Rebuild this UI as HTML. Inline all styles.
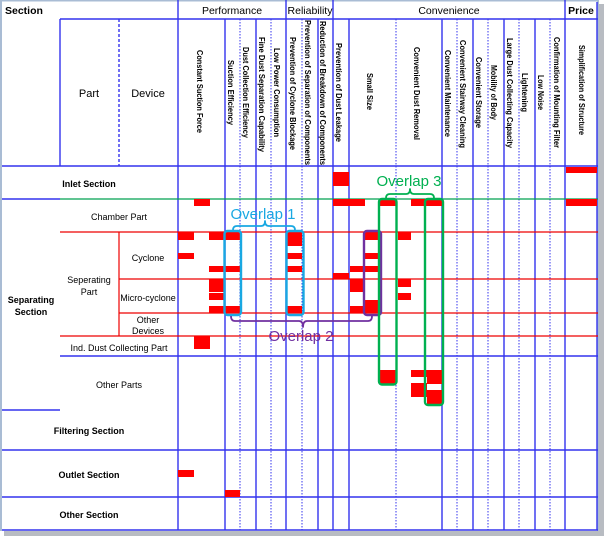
<!DOCTYPE html>
<html><head><meta charset="utf-8"><style>
html,body{margin:0;padding:0;background:#fff;width:605px;height:538px;overflow:hidden}
svg{display:block}
text{font-family:"Liberation Sans",sans-serif;fill:#000}
</style></head><body>
<svg width="605" height="538" viewBox="0 0 605 538" xmlns="http://www.w3.org/2000/svg">
<rect x="0" y="0" width="605" height="538" fill="#fff"/>
<rect x="599" y="4" width="5" height="532" fill="#b8bcc2"/>
<rect x="4" y="531" width="600" height="5" fill="#b8bcc2"/>
<rect x="0" y="0" width="2" height="531" fill="#a9bcd4"/>
<rect x="0" y="0" width="599" height="1.5" fill="#a9bcd4"/>
<rect x="597" y="0" width="2" height="531" fill="#a9bcd4"/>

<g stroke="#3333ee" stroke-width="1.4" fill="none">
<line x1="60" y1="19" x2="598" y2="19"/>
<line x1="2" y1="166" x2="598" y2="166"/>
<line x1="2" y1="199" x2="60" y2="199"/>
<line x1="60" y1="356" x2="598" y2="356"/>
<line x1="2" y1="410" x2="60" y2="410"/>
<line x1="2" y1="450" x2="598" y2="450"/>
<line x1="2" y1="497" x2="598" y2="497"/>
<line x1="2" y1="530" x2="598" y2="530"/>
<line x1="597" y1="2" x2="597" y2="530"/>
<line x1="60" y1="19" x2="60" y2="166"/>
<line x1="119" y1="19" x2="119" y2="166" stroke-dasharray="3,2"/>
<line x1="178" y1="0" x2="178" y2="530"/>
<line x1="286" y1="0" x2="286" y2="530"/>
<line x1="333" y1="0" x2="333" y2="530"/>
<line x1="565" y1="0" x2="565" y2="530"/>
<line x1="225" y1="19" x2="225" y2="530"/>
<line x1="256" y1="19" x2="256" y2="530"/>
<line x1="318" y1="19" x2="318" y2="530"/>
<line x1="349" y1="19" x2="349" y2="530"/>
<line x1="442" y1="19" x2="442" y2="530"/>
<line x1="473" y1="19" x2="473" y2="530"/>
<line x1="504" y1="19" x2="504" y2="530"/>
<line x1="535" y1="19" x2="535" y2="530"/>
</g>
<g stroke="#3333ee" stroke-width="1" stroke-dasharray="1.5,1.5">
<line x1="240" y1="19" x2="240" y2="530"/>
<line x1="271" y1="19" x2="271" y2="530"/>
<line x1="302" y1="19" x2="302" y2="530"/>
<line x1="396" y1="19" x2="396" y2="530"/>
<line x1="457" y1="19" x2="457" y2="530"/>
<line x1="488" y1="19" x2="488" y2="530"/>
<line x1="519" y1="19" x2="519" y2="530"/>
<line x1="550" y1="19" x2="550" y2="530"/>
</g>
<line x1="60" y1="199" x2="598" y2="199" stroke="#00a050" stroke-width="1.2"/>
<g stroke="#ee0000" stroke-width="1.2">
<line x1="60" y1="232" x2="598" y2="232"/>
<line x1="119" y1="279" x2="598" y2="279"/>
<line x1="119" y1="313" x2="598" y2="313"/>
<line x1="60" y1="336" x2="598" y2="336"/>
<line x1="119" y1="232" x2="119" y2="336"/>
</g>

<g fill="#ff0000">
<rect x="333" y="172" width="16" height="14"/>
<rect x="566" y="167" width="31" height="6"/>
<rect x="566" y="199" width="31" height="7"/>
<rect x="194" y="199" width="16" height="7"/>
<rect x="333" y="199" width="32" height="7"/>
<rect x="380" y="199" width="16" height="7"/>
<rect x="411" y="199" width="31" height="7"/>
<rect x="178" y="232" width="16" height="8"/>
<rect x="209" y="232" width="31" height="8"/>
<rect x="287" y="232" width="15" height="14"/>
<rect x="365" y="232" width="15" height="8"/>
<rect x="398" y="232" width="13" height="8"/>
<rect x="178" y="253" width="16" height="6"/>
<rect x="287" y="253" width="15" height="6"/>
<rect x="365" y="253" width="15" height="6"/>
<rect x="209" y="266" width="31" height="6"/>
<rect x="287" y="266" width="15" height="6"/>
<rect x="350" y="266" width="30" height="6"/>
<rect x="333" y="273" width="16" height="6"/>
<rect x="209" y="279" width="16" height="13"/>
<rect x="350" y="279" width="15" height="13"/>
<rect x="398" y="279" width="13" height="8"/>
<rect x="209" y="293" width="16" height="7"/>
<rect x="398" y="293" width="13" height="7"/>
<rect x="209" y="306" width="31" height="7"/>
<rect x="287" y="306" width="15" height="7"/>
<rect x="350" y="306" width="15" height="7"/>
<rect x="365" y="300" width="15" height="13"/>
<rect x="194" y="336" width="16" height="13"/>
<rect x="380" y="370" width="16" height="14"/>
<rect x="411" y="370" width="16" height="7"/>
<rect x="427" y="370" width="15" height="14"/>
<rect x="411" y="383" width="16" height="14"/>
<rect x="427" y="390" width="15" height="14"/>
<rect x="178" y="470" width="16" height="7"/>
<rect x="225" y="490" width="15" height="7"/>
</g>

<g fill="none" stroke-width="2.4" stroke-linejoin="round">
<rect x="224.5" y="231" width="16.5" height="84" rx="3" stroke="#19a8e2"/>
<rect x="286.5" y="231" width="17" height="84" rx="3" stroke="#19a8e2"/>
<path d="M233 230 q0 -4 4 -4 h24 q4 0 4 -5 q0 5 4 5 h22 q4 0 4 4" stroke="#19a8e2" stroke-width="1.8"/>
<rect x="364" y="231" width="17" height="84" rx="3" stroke="#7030a0"/>
<path d="M231 316 q0 5 4 5 h64 q4 0 4 6 q0 -6 4 -6 h61 q4 0 4 -5" stroke="#7030a0" stroke-width="1.8"/>
<rect x="379" y="199" width="17.5" height="185.5" rx="3" stroke="#00b050"/>
<rect x="425" y="199" width="18" height="206" rx="3" stroke="#00b050"/>
<path d="M386 198 q0 -4 4 -4 h16 q4 0 4 -5 q0 5 4 5 h16 q4 0 4 4" stroke="#00b050" stroke-width="1.8"/>
</g>
<text x="263" y="219" font-size="15" text-anchor="middle" style="fill:#19a8e2">Overlap 1</text>
<text x="301" y="341" font-size="15" text-anchor="middle" style="fill:#7030a0">Overlap 2</text>
<text x="409" y="186" font-size="15" text-anchor="middle" style="fill:#00b050">Overlap 3</text>

<g font-size="10.5">
<text x="5" y="14" font-weight="bold">Section</text>
<text x="232" y="14" text-anchor="middle">Performance</text>
<text x="310" y="14" text-anchor="middle">Reliability</text>
<text x="449" y="14" text-anchor="middle">Convenience</text>
<text x="581" y="14" text-anchor="middle" font-weight="bold">Price</text>
<text x="89" y="97" text-anchor="middle" font-size="11">Part</text>
<text x="148" y="97" text-anchor="middle" font-size="11">Device</text>
</g>
<g font-size="8.5" font-weight="bold">
<text transform="translate(197,50) rotate(90)" textLength="83" lengthAdjust="spacingAndGlyphs">Constant Suction Force</text>
<text transform="translate(228,60) rotate(90)" textLength="65" lengthAdjust="spacingAndGlyphs">Suction Efficiency</text>
<text transform="translate(243,47) rotate(90)" textLength="91" lengthAdjust="spacingAndGlyphs">Dust Collection Efficiency</text>
<text transform="translate(259,37) rotate(90)" textLength="115" lengthAdjust="spacingAndGlyphs">Fine Dust Separation Capability</text>
<text transform="translate(274,48) rotate(90)" textLength="89" lengthAdjust="spacingAndGlyphs">Low Power Consumption</text>
<text transform="translate(290,37) rotate(90)" textLength="113" lengthAdjust="spacingAndGlyphs">Prevention of Cyclone Blockage</text>
<text transform="translate(305,20) rotate(90)" textLength="145" lengthAdjust="spacingAndGlyphs">Prevention of Separation of Components</text>
<text transform="translate(320,21) rotate(90)" textLength="144" lengthAdjust="spacingAndGlyphs">Reduction of Breakdown of Components</text>
<text transform="translate(336,43) rotate(90)" textLength="99" lengthAdjust="spacingAndGlyphs">Prevention of Dust Leakage</text>
<text transform="translate(367,73) rotate(90)" textLength="37" lengthAdjust="spacingAndGlyphs">Small Size</text>
<text transform="translate(414,47) rotate(90)" textLength="93" lengthAdjust="spacingAndGlyphs">Convenient Dust Removal</text>
<text transform="translate(445,50) rotate(90)" textLength="87" lengthAdjust="spacingAndGlyphs">Convenient Maintenance</text>
<text transform="translate(460,40) rotate(90)" textLength="108" lengthAdjust="spacingAndGlyphs">Convenient Stairway Cleaning</text>
<text transform="translate(476,57) rotate(90)" textLength="71" lengthAdjust="spacingAndGlyphs">Convenient Storage</text>
<text transform="translate(491,65) rotate(90)" textLength="55" lengthAdjust="spacingAndGlyphs">Mobility of Body</text>
<text transform="translate(507,38) rotate(90)" textLength="110" lengthAdjust="spacingAndGlyphs">Large Dust Collecting Capacity</text>
<text transform="translate(522,73) rotate(90)" textLength="39" lengthAdjust="spacingAndGlyphs">Lightening</text>
<text transform="translate(538,75) rotate(90)" textLength="35" lengthAdjust="spacingAndGlyphs">Low Noise</text>
<text transform="translate(554,37) rotate(90)" textLength="111" lengthAdjust="spacingAndGlyphs">Confirmation of Mounting Filter</text>
<text transform="translate(579,45) rotate(90)" textLength="90" lengthAdjust="spacingAndGlyphs">Simplification of Structure</text>
</g>

<g font-size="9" text-anchor="middle">
<text x="89" y="187" font-weight="bold">Inlet Section</text>
<text x="119" y="220">Chamber Part</text>
<text x="148" y="261">Cyclone</text>
<text x="89" y="283">Seperating</text>
<text x="89" y="295">Part</text>
<text x="148" y="301">Micro-cyclone</text>
<text x="148" y="323">Other</text>
<text x="148" y="334">Devices</text>
<text x="31" y="303" font-weight="bold">Separating</text>
<text x="31" y="315" font-weight="bold">Section</text>
<text x="119" y="351">Ind. Dust Collecting Part</text>
<text x="119" y="388">Other Parts</text>
<text x="89" y="434" font-weight="bold">Filtering Section</text>
<text x="89" y="478" font-weight="bold">Outlet Section</text>
<text x="89" y="518" font-weight="bold">Other Section</text>
</g>
</svg>
</body></html>
